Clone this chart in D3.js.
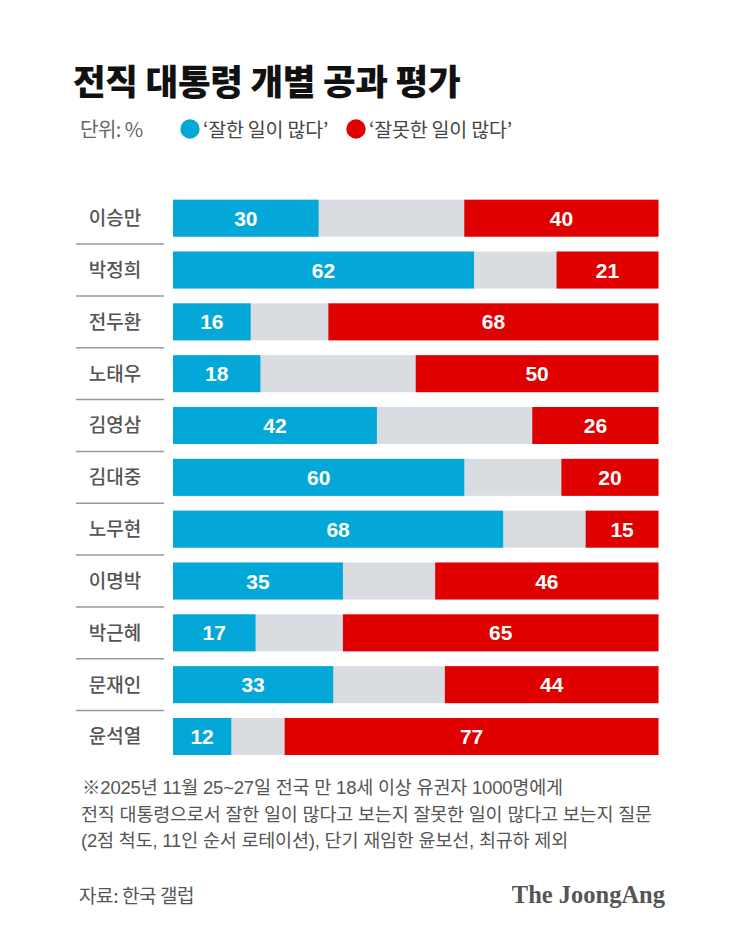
<!DOCTYPE html>
<html>
<head>
<meta charset="utf-8">
<script src="https://cdn.jsdelivr.net/npm/d3@7"></script>
<style>
  body { margin: 0; background: #fff; }
  svg { display: block; font-family: "Noto Sans CJK KR", "Noto Sans", sans-serif; }
</style>
</head>
<body>
<div id="chart"></div>
<script>
var presidents = ["이승만", "박정희", "전두환", "노태우", "김영삼", "김대중", "노무현", "이명박", "박근혜", "문재인", "윤석열"];
var goodValues = [30, 62, 16, 18, 42, 60, 68, 35, 17, 33, 12];
var badValues = [40, 21, 68, 50, 26, 20, 15, 46, 65, 44, 77];
var legendLabels = ["‘잘한 일이 많다’", "‘잘못한 일이 많다’"];
var noteLines = [
  "※2025년 11월 25~27일 전국 만 18세 이상 유권자 1000명에게",
  "전직 대통령으로서 잘한 일이 많다고 보는지 잘못한 일이 많다고 보는지 질문",
  "(2점 척도, 11인 순서 로테이션), 단기 재임한 윤보선, 최규하 제외"
];

var W = 754, H = 944;
var blue = "#03a8d8", red = "#e00000", grey = "#d9dde1";

var svg = d3.select("#chart").append("svg")
  .attr("width", W)
  .attr("height", H);

var rows = presidents.map(function(p, i){
  return {name: p, good: goodValues[i], bad: badValues[i]};
});

var x = d3.scaleLinear().domain([0, 100]).range([173, 658.5]);
var y = d3.scaleBand().domain(presidents).range([199.7, 755]).paddingInner(0.286).paddingOuter(0);

// title
svg.append("text")
  .attr("x", 73)
  .attr("y", 95)
  .style("font-size", "35.5px")
  .style("font-weight", 900)
  .style("letter-spacing", "-0.3px")
  .attr("fill", "#111")
  .text("전직 대통령 개별 공과 평가");

// legend
svg.append("text")
  .attr("x", 80)
  .attr("y", 137)
  .style("font-size", "20px")
  .style("letter-spacing", "-0.5px")
  .attr("fill", "#666")
  .text("단위: %");

var legend = svg.selectAll(".legend")
  .data([{label: legendLabels[0], color: blue, x: 190}, {label: legendLabels[1], color: red, x: 356}])
  .enter()
  .append("g")
  .attr("class", "legend");

legend.append("circle")
  .attr("cx", function(d){ return d.x; })
  .attr("cy", 129)
  .attr("r", 9.7)
  .attr("fill", function(d){ return d.color; });

legend.append("text")
  .attr("x", function(d){ return d.x + 13; })
  .attr("y", 137)
  .style("font-size", "19.5px")
  .style("letter-spacing", "-0.2px")
  .attr("fill", "#444")
  .text(function(d){ return d.label; });

// row labels + separators
svg.selectAll(".row-label")
  .data(rows)
  .enter()
  .append("text")
  .attr("class", "row-label")
  .attr("x", 115)
  .attr("y", function(d){ return y(d.name) + y.bandwidth()/2; })
  .attr("dy", "0.36em")
  .attr("text-anchor", "middle")
  .style("font-size", "19px")
  .style("font-weight", 500)
  .attr("fill", "#555")
  .text(function(d){ return d.name; });

svg.selectAll(".sep")
  .data(rows.slice(1))
  .enter()
  .append("line")
  .attr("class", "sep")
  .attr("x1", 76)
  .attr("x2", 164)
  .attr("y1", function(d){ return y(d.name) - (y.step() - y.bandwidth())/2; })
  .attr("y2", function(d){ return y(d.name) - (y.step() - y.bandwidth())/2; })
  .attr("stroke", "#999")
  .attr("stroke-width", 1.5);

// bars
var bar = svg.selectAll(".bar")
  .data(rows)
  .enter()
  .append("g")
  .attr("class", "bar");

bar.append("rect")
  .attr("x", x(0))
  .attr("y", function(d){ return y(d.name); })
  .attr("width", x(100) - x(0))
  .attr("height", y.bandwidth())
  .attr("fill", grey);

bar.append("rect")
  .attr("x", x(0))
  .attr("y", function(d){ return y(d.name); })
  .attr("width", function(d){ return x(d.good) - x(0); })
  .attr("height", y.bandwidth())
  .attr("fill", blue);

bar.append("rect")
  .attr("x", function(d){ return x(100 - d.bad); })
  .attr("y", function(d){ return y(d.name); })
  .attr("width", function(d){ return x(100) - x(100 - d.bad); })
  .attr("height", y.bandwidth())
  .attr("fill", red);

function valueLabel(sel, xf, tf){
  sel.append("text")
    .attr("x", xf)
    .attr("y", function(d){ return y(d.name) + y.bandwidth()/2; })
    .attr("dy", "0.36em")
    .attr("text-anchor", "middle")
    .style("font-family", "'Liberation Sans', Arial, sans-serif")
    .style("font-size", "21px")
    .style("font-weight", 700)
    .attr("fill", "#fff")
    .text(tf);
}
valueLabel(bar, function(d){ return (x(0) + x(d.good))/2; }, function(d){ return d.good; });
valueLabel(bar, function(d){ return (x(100 - d.bad) + x(100))/2; }, function(d){ return d.bad; });

// notes
svg.selectAll(".note")
  .data(noteLines)
  .enter()
  .append("text")
  .attr("class", "note")
  .attr("x", function(d, i){ return i == 0 ? 82 : 81; })
  .attr("y", function(d, i){ return 794 + i*26.5; })
  .style("font-family", "'Liberation Sans', 'Noto Sans CJK KR', sans-serif")
  .style("font-size", "18.5px")
  .style("letter-spacing", "-0.2px")
  .attr("fill", "#555")
  .text(function(d){ return d; });

svg.append("text")
  .attr("x", 79)
  .attr("y", 903)
  .style("font-size", "19px")
  .style("letter-spacing", "-0.4px")
  .attr("fill", "#555")
  .text("자료: 한국 갤럽");

svg.append("text")
  .attr("x", 665)
  .attr("y", 903)
  .attr("text-anchor", "end")
  .style("font-family", "'Liberation Serif', 'DejaVu Serif', serif")
  .style("font-size", "24.5px")
  .style("font-weight", 700)
  .attr("fill", "#555")
  .text("The JoongAng");
</script>
</body>
</html>
